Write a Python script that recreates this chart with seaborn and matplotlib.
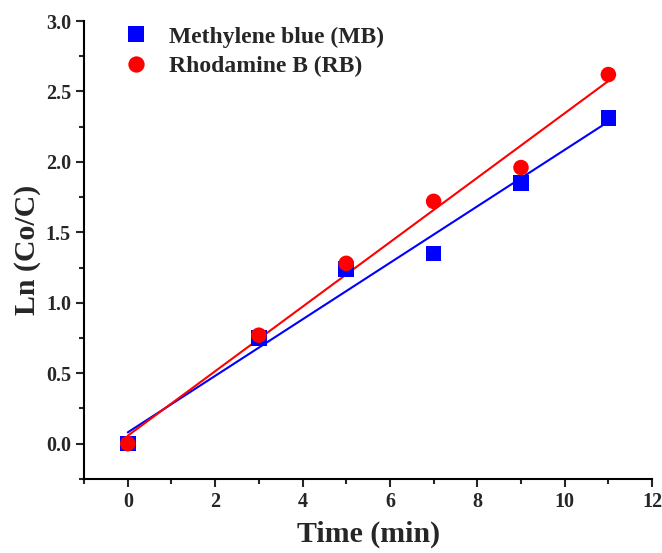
import numpy as np
import pandas as pd
import matplotlib
matplotlib.use("Agg")
import matplotlib.pyplot as plt
from matplotlib.ticker import MultipleLocator
import seaborn as sns

# Reaction time (min) and ln(C0/C) for each dye
time_min = [0, 3, 5, 7, 9, 11]
ln_mb = [0.0, 0.75, 1.24, 1.35, 1.85, 2.31]
ln_rb = [0.0, 0.77, 1.28, 1.72, 1.96, 2.62]
series_names = ["Methylene blue (MB)", "Rhodamine B (RB)"]
series_colors = ["#0000FF", "#FF0000"]
series_markers = ["s", "o"]

sns.set_style("ticks")
plt.rcParams["font.family"] = ["Liberation Serif", "DejaVu Serif"]
plt.rcParams["font.weight"] = "bold"

df = pd.DataFrame({
    "time": time_min * 2,
    "ln": ln_mb + ln_rb,
    "dye": [series_names[0]] * len(time_min) + [series_names[1]] * len(time_min),
})

fig = plt.figure(figsize=(6.62, 5.53), dpi=100)
ax = fig.add_axes([0.127, 0.134, 0.858, 0.828])

# linear kinetic fits
for name, vals, col in zip(series_names, [ln_mb, ln_rb], series_colors):
    k, b = np.polyfit(time_min, vals, 1)
    xs = np.array([min(time_min), max(time_min)])
    sns.lineplot(x=xs, y=k * xs + b, color=col, lw=1.5, ax=ax, legend=False)

sns.scatterplot(data=df, x="time", y="ln", hue="dye", style="dye",
                palette=dict(zip(series_names, series_colors)),
                markers=dict(zip(series_names, series_markers)),
                s=125, linewidth=0, ax=ax, zorder=3)

ax.set_xlim(-1, 12)
ax.set_ylim(-0.25, 3.0)
ax.xaxis.set_major_locator(MultipleLocator(2))
ax.xaxis.set_minor_locator(MultipleLocator(1))
ax.yaxis.set_major_locator(MultipleLocator(0.5))
ax.yaxis.set_minor_locator(MultipleLocator(0.25))
ax.tick_params(which="major", direction="out", length=6, width=1.5, labelsize=14.5)
ax.tick_params(which="minor", direction="out", length=3.5, width=1.5)
for lab in ax.get_xticklabels() + ax.get_yticklabels():
    lab.set_fontweight("bold")

for side in ["top", "right"]:
    ax.spines[side].set_visible(False)
for side in ["left", "bottom"]:
    ax.spines[side].set_linewidth(1.5)
    ax.spines[side].set_color("black")

ax.set_xlabel("Time (min)", fontsize=21.5, fontweight="bold", labelpad=6)
ax.set_ylabel("Ln (Co/C)", fontsize=21.5, fontweight="bold", labelpad=3)

leg = ax.legend(loc="upper left", bbox_to_anchor=(0.025, 1.02), frameon=False,
                prop={"size": 17, "weight": "bold"}, handletextpad=0.4,
                labelspacing=0.34, borderaxespad=0.2, markerscale=1.05)

fig.savefig("out.png", dpi=100)
